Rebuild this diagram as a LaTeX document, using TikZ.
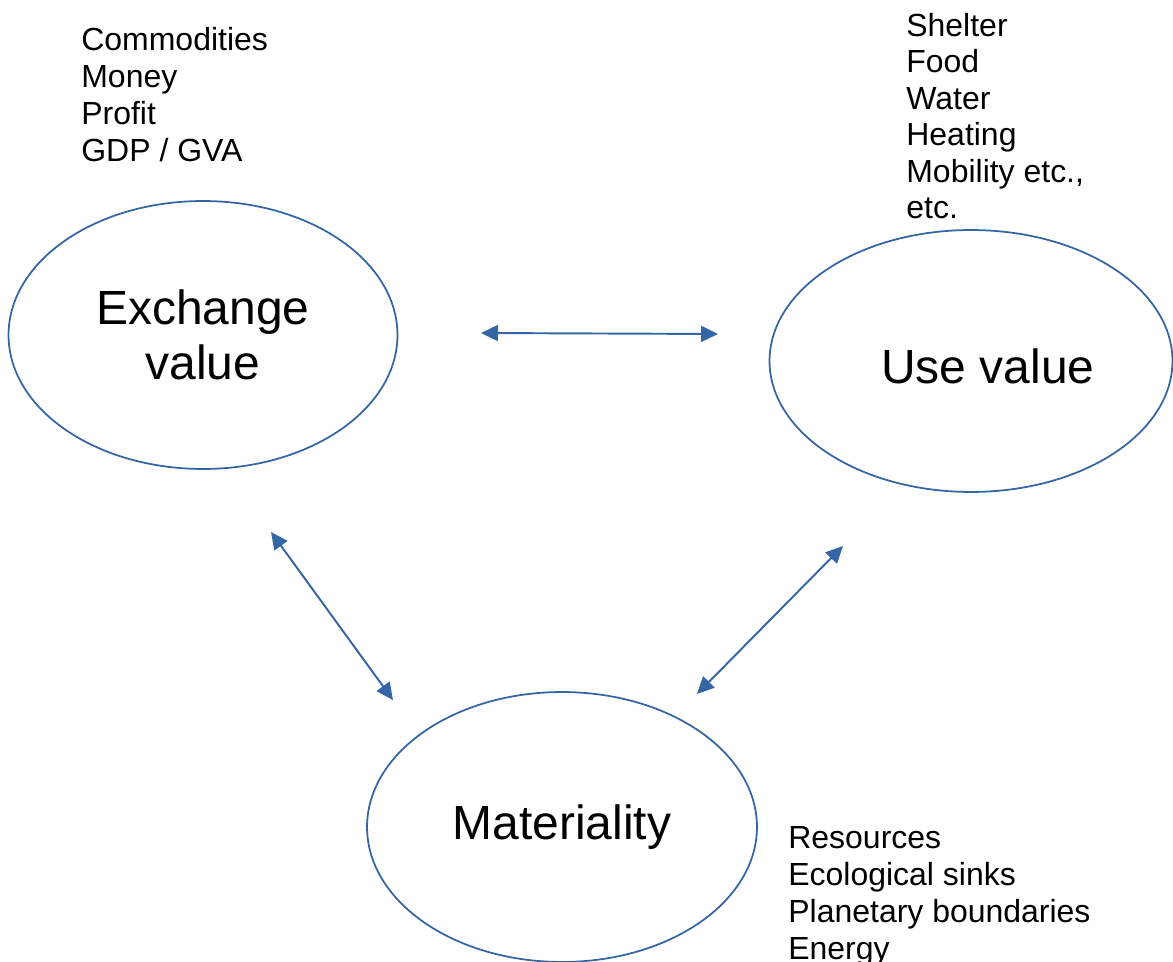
\documentclass[tikz,border=0pt]{standalone}
\usepackage{fontspec}
\setmainfont{Liberation Sans}
\usepackage{xcolor}
\usepackage{tikz}
\usetikzlibrary{shapes.geometric, arrows.meta, positioning}

\definecolor{lineblue}{HTML}{3465A4}

\begin{document}
\begin{tikzpicture}[x=0.02cm, y=-0.02cm, every node/.style={inner sep=0pt},
    bubble/.style={draw=lineblue, line width=1pt, ellipse},
    big/.style={font=\fontsize{27.3pt}{31.3pt}\selectfont, align=center},
    item/.style={font=\fontsize{18.2pt}{21pt}\selectfont, anchor=base west},
    link/.style={{Triangle[length=0.34cm,width=0.32cm]}-{Triangle[length=0.34cm,width=0.32cm]}, draw=lineblue, line width=1.1pt}]
    \useasboundingbox (0,0) rectangle (1173,962);

    % the three values
    \node[bubble, big, minimum width=7.78cm, minimum height=5.36cm] (exch) at (203,335) {Exchange\\value};
    \node[bubble, minimum width=8.06cm, minimum height=5.24cm] (usev) at (971,361) {};
    \node[big] (usetext) at (988,366) {Use value};
    \node[bubble, big, minimum width=7.8cm, minimum height=5.4cm] (mat) at (562,827) {Materiality};

    % lists
    \foreach \t [count=\i] in {Commodities, Money, Profit, GDP / GVA} {
        \node[item] (exitem\i) at (81, 14+37*\i) {\t};
    }
    \foreach \t [count=\i] in {Shelter, Food, Water, Heating, {Mobility etc.,}, etc.} {
        \node[item] (useitem\i) at (906, 36.5*\i) {\t};
    }
    \foreach \t [count=\i] in {Resources, Ecological sinks, Planetary boundaries, Energy} {
        \node[item] (matitem\i) at (788, 811+37*\i) {\t};
    }

    % arrows
    \coordinate (hl) at (481,333);
    \coordinate (hr) at (718,334);
    \coordinate (lt) at (271,532);
    \coordinate (lb) at (393,700);
    \coordinate (rt) at (843,546);
    \coordinate (rb) at (697,694);
    \draw[link] (hl) -- (hr);
    \draw[link] (lt) -- (lb);
    \draw[link] (rt) -- (rb);
\end{tikzpicture}
\end{document}
